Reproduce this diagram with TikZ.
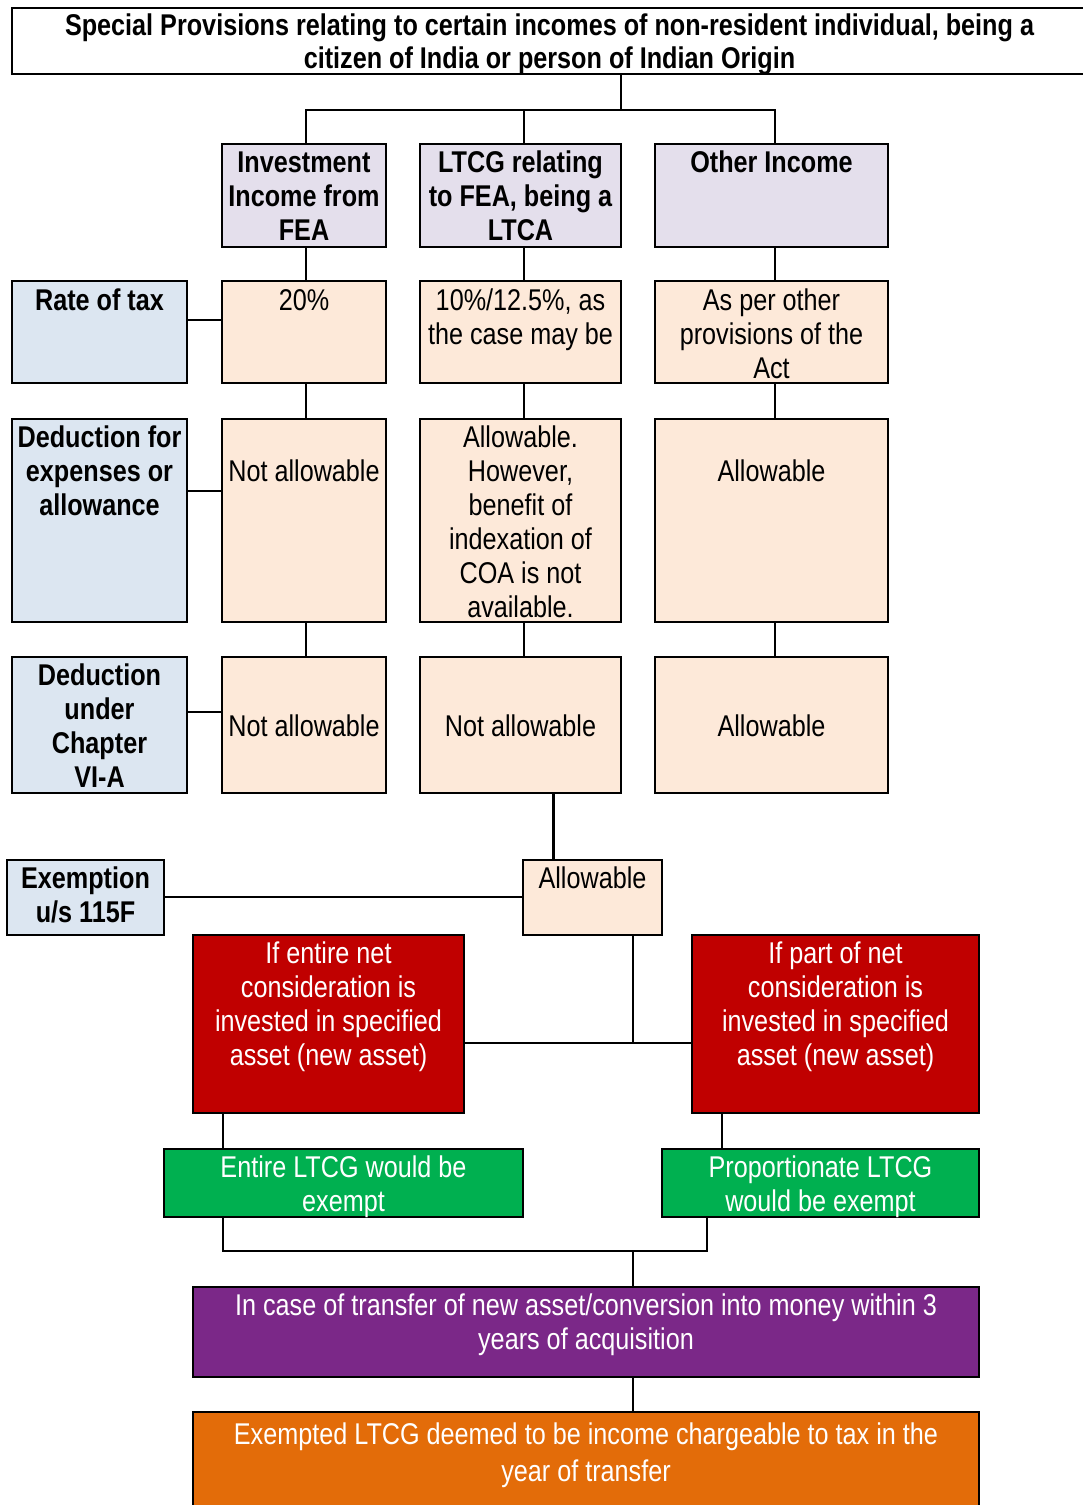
\documentclass[tikz,border=0pt]{standalone}
\usepackage{fontspec}
\setmainfont{Liberation Sans}[FakeStretch=0.84]
\definecolor{lav}{HTML}{E4DFEC}
\definecolor{peach}{HTML}{FDE9D9}
\definecolor{lblue}{HTML}{DCE6F1}
\definecolor{dred}{HTML}{C00000}
\definecolor{dgreen}{HTML}{00B050}
\definecolor{dpurple}{HTML}{7B2888}
\definecolor{dorange}{HTML}{E36C09}
\newcommand{\bt}[4]{\parbox[c][#2pt][t]{#1pt}{\centering\rule{0pt}{#3pt}#4\par}}
\begin{document}
\begin{tikzpicture}[x=1pt,y=-1pt,
  box/.style={draw=black,line width=2pt,inner sep=0pt,outer sep=0pt,font=\fontsize{30}{34}\selectfont},
  hdr/.style={box,font=\fontsize{30}{34}\selectfont\bfseries},
  wtxt/.style={box,text=white},
  conn/.style={line width=1.5pt}]
\useasboundingbox (0,0) rectangle (1083,1505);
\fill[white] (0,0) rectangle (1083,1505);
% coordinates for connector columns and rows
\coordinate (cx1) at (306,0);
\coordinate (cx2) at (524,0);
\coordinate (cx3) at (775,0);
\coordinate (cx4) at (553,0);
\coordinate (cx5) at (633,0);
\coordinate (cx6) at (223,0);
\coordinate (cx7) at (722,0);
\coordinate (cx8) at (707,0);
\coordinate (cT) at (621,110);
\coordinate (y1) at (0,320);
\coordinate (y2) at (0,491);
\coordinate (y3) at (0,712);
\coordinate (y4) at (0,897);
\coordinate (y5) at (0,1043);
\coordinate (y6) at (0,1251);
% title
\node[hdr,fill=white,font=\fontsize{30}{33}\selectfont\bfseries] (title) at (549.5,41) {\bt{1075}{66}{27}{Special Provisions relating to certain incomes of non-resident individual, being a\\citizen of India or person of Indian Origin}};
% row 1
\node[hdr,fill=lav] (a1) at (304,195.5) {\bt{164}{103}{28}{Investment\\Income from\\FEA}};
\node[hdr,fill=lav] (a2) at (520.5,195.5) {\bt{201}{103}{28}{LTCG relating\\to FEA, being a\\LTCA}};
\node[hdr,fill=lav] (a3) at (771.5,195.5) {\bt{233}{103}{28}{Other Income}};
% row 2
\node[hdr,fill=lblue] (l1) at (99.5,332) {\bt{175}{102}{29}{Rate of tax}};
\node[box,fill=peach] (b1) at (304,332) {\bt{164}{102}{29}{20\%}};
\node[box,fill=peach] (b2) at (520.5,332) {\bt{201}{102}{29}{10\%/12.5\%, as\\the case may be}};
\node[box,fill=peach] (b3) at (771.5,332) {\bt{233}{102}{29}{As per other\\provisions of the\\Act}};
% row 3
\node[hdr,fill=lblue] (l2) at (99.5,520.5) {\bt{175}{203}{28}{Deduction for\\expenses or\\allowance}};
\node[box,fill=peach] (c1) at (304,520.5) {\bt{164}{203}{62}{Not allowable}};
\node[box,fill=peach] (c2) at (520.5,520.5) {\bt{201}{203}{28}{Allowable.\\However,\\benefit of\\indexation of\\COA is not\\available.}};
\node[box,fill=peach] (c3) at (771.5,520.5) {\bt{233}{203}{62}{Allowable}};
% row 4
\node[hdr,fill=lblue] (l3) at (99.5,725) {\bt{175}{136}{28}{Deduction\\under\\Chapter\\VI-A}};
\node[box,fill=peach] (d1) at (304,725) {\bt{164}{136}{79}{Not allowable}};
\node[box,fill=peach] (d2) at (520.5,725) {\bt{201}{136}{79}{Not allowable}};
\node[box,fill=peach] (d3) at (771.5,725) {\bt{233}{136}{79}{Allowable}};
% row 5
\node[hdr,fill=lblue] (l4) at (85.5,897.5) {\bt{157}{75}{28}{Exemption\\u/s 115F}};
\node[box,fill=peach] (e) at (592.5,897.5) {\bt{139}{75}{28}{Allowable}};
% red
\node[wtxt,fill=dred] (r1) at (328.5,1024) {\bt{271}{178}{28}{If entire net\\consideration is\\invested in specified\\asset (new asset)}};
\node[wtxt,fill=dred] (r2) at (835.5,1024) {\bt{287}{178}{28}{If part of net\\consideration is\\invested in specified\\asset (new asset)}};
% green
\node[wtxt,fill=dgreen] (g1) at (343.5,1183) {\bt{359}{68}{28}{Entire LTCG would be\\exempt}};
\node[wtxt,fill=dgreen] (g2) at (820.5,1183) {\bt{317}{68}{28}{Proportionate LTCG\\would be exempt}};
% purple
\node[wtxt,fill=dpurple] (p) at (586,1332) {\bt{786}{90}{28}{In case of transfer of new asset/conversion into money within 3\\years of acquisition}};
% orange
\node[wtxt,fill=dorange,font=\fontsize{30}{37}\selectfont] (o) at (586,1461) {\bt{786}{98}{32}{Exempted LTCG deemed to be income chargeable to tax in the\\year of transfer}};
% connectors
\draw[conn] (cT |- title.south) -- (cT);
\draw[conn] (a1.north -| cx1) -- (cx1 |- cT) -- (cx3 |- cT) -- (a3.north -| cx3);
\draw[conn] (cx2 |- cT) -- (a2.north -| cx2);
\draw[conn] (a1.south -| cx1) -- (b1.north -| cx1);
\draw[conn] (a2.south -| cx2) -- (b2.north -| cx2);
\draw[conn] (a3.south -| cx3) -- (b3.north -| cx3);
\draw[conn] (b1.south -| cx1) -- (c1.north -| cx1);
\draw[conn] (b2.south -| cx2) -- (c2.north -| cx2);
\draw[conn] (b3.south -| cx3) -- (c3.north -| cx3);
\draw[conn] (c1.south -| cx1) -- (d1.north -| cx1);
\draw[conn] (c2.south -| cx2) -- (d2.north -| cx2);
\draw[conn] (c3.south -| cx3) -- (d3.north -| cx3);
\draw[conn] (l1.east |- y1) -- (b1.west |- y1);
\draw[conn] (l2.east |- y2) -- (c1.west |- y2);
\draw[conn] (l3.east |- y3) -- (d1.west |- y3);
\draw[line width=3pt] (d2.south -| cx4) -- (e.north -| cx4);
\draw[conn] (l4.east |- y4) -- (e.west |- y4);
\draw[conn] (e.south -| cx5) -- (cx5 |- y5);
\draw[conn] (r1.east |- y5) -- (r2.west |- y5);
\draw[conn] (r1.south -| cx6) -- (g1.north -| cx6);
\draw[conn] (r2.south -| cx7) -- (g2.north -| cx7);
\draw[conn] (g1.south -| cx6) -- (cx6 |- y6) -- (cx8 |- y6) -- (g2.south -| cx8);
\draw[conn] (cx5 |- y6) -- (p.north -| cx5);
\draw[conn] (p.south -| cx5) -- (o.north -| cx5);
\end{tikzpicture}
\end{document}
